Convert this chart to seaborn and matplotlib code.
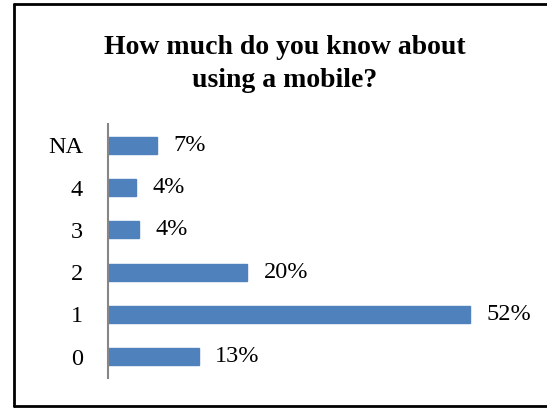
import matplotlib
matplotlib.use("Agg")
import matplotlib.pyplot as plt
from matplotlib.lines import Line2D
import seaborn as sns
import pandas as pd

categories = ["NA", "4", "3", "2", "1", "0"]
values = [7, 4, 4.4, 20, 52, 13]
labels = ["7%", "4%", "4%", "20%", "52%", "13%"]
title = "How much do you know about\nusing a mobile?"

sns.set_theme(style="white")
plt.rcParams["font.family"] = ["Liberation Serif", "DejaVu Serif"]
plt.rcParams["text.color"] = "black"
plt.rcParams["ytick.color"] = "black"

df = pd.DataFrame({"cat": categories, "val": values})

fig = plt.figure(figsize=(5.47, 4.08), dpi=100)
ax = fig.add_axes([108 / 547, 30 / 408, (526 - 108) / 547, 254 / 408])
sns.barplot(data=df, x="val", y="cat", order=categories, color="#4F81BD",
            saturation=1, width=0.4, ax=ax, edgecolor="#4F81BD")
ax.set_xlim(0, 60)
ax.set_ylim(5.5, -0.5)
ax.set_xlabel("")
ax.set_ylabel("")
ax.set_xticks([])
for s in ["top", "right", "bottom"]:
    ax.spines[s].set_visible(False)
ax.spines["left"].set_color("#868686")
ax.spines["left"].set_linewidth(1.5)
ax.tick_params(axis="y", length=0, pad=18, labelsize=17.5, labelcolor="black")
for lab in ax.get_yticklabels():
    lab.set_fontfamily(["Liberation Serif", "DejaVu Serif"])

for i, (v, t) in enumerate(zip(values, labels)):
    ax.annotate(t, (v, i), xytext=(12, 0), textcoords="offset points",
                va="center", ha="left", fontsize=17.5, color="black")

fig.text(285 / 547, 1 - 64 / 408, title, ha="center", va="center",
         fontsize=20, fontweight="bold", linespacing=1.4, color="black")

fig.add_artist(Line2D([14 / 547, 14 / 547], [1 - 406 / 408, 1 - 4 / 408],
                      transform=fig.transFigure, color="black", lw=2))
fig.add_artist(Line2D([14 / 547, 1], [1 - 4 / 408, 1 - 4 / 408],
                      transform=fig.transFigure, color="black", lw=2))
fig.add_artist(Line2D([14 / 547, 1], [1 - 406 / 408, 1 - 406 / 408],
                      transform=fig.transFigure, color="black", lw=2))

fig.savefig("out.png", dpi=100)
